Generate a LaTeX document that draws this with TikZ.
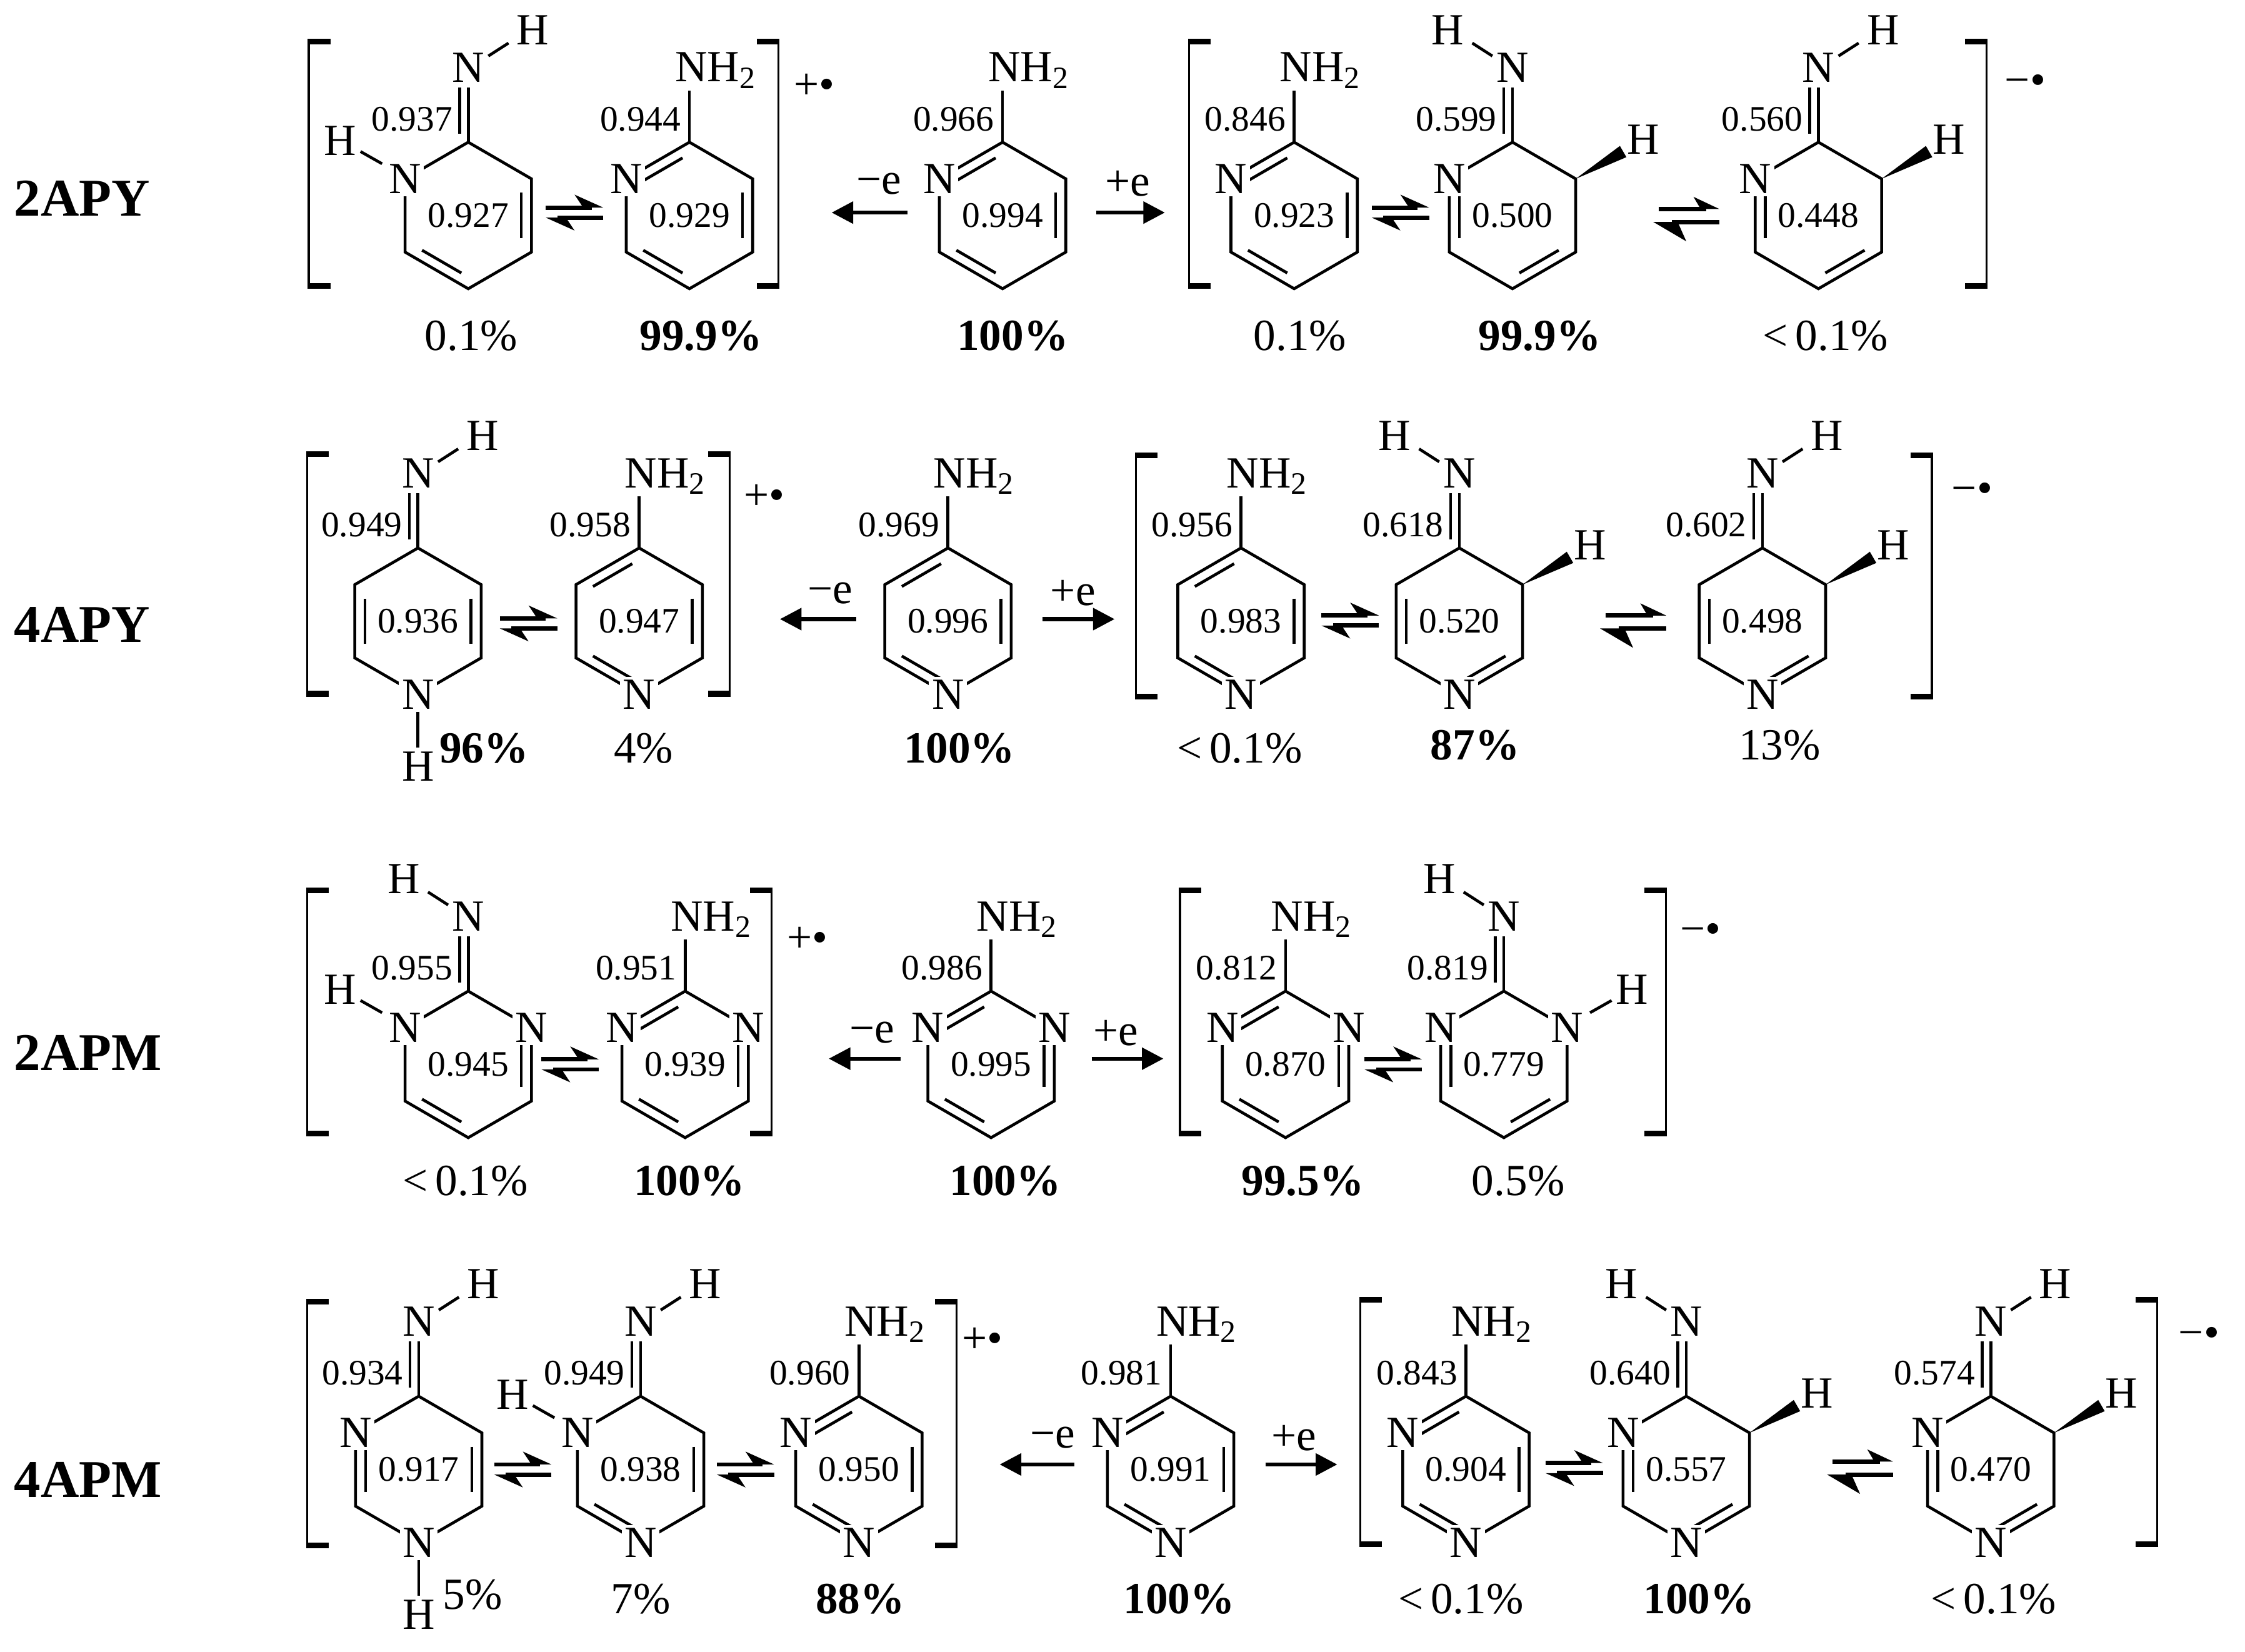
\documentclass[tikz,border=0pt]{standalone}
\usepackage{fontspec}
\setmainfont{Liberation Serif}
\usetikzlibrary{arrows.meta}
\tikzset{
 atom/.style={font=\fontsize{15.5}{16}\selectfont, inner sep=1pt},
 num/.style={font=\fontsize{12.5}{13}\selectfont, inner sep=0.5pt},
 pct/.style={font=\fontsize{15.5}{16}\selectfont, inner sep=0pt},
 pctb/.style={font=\fontsize{15.5}{16}\selectfont\bfseries, inner sep=0pt},
 rowlab/.style={font=\fontsize{18.5}{20}\selectfont\bfseries, anchor=west, inner sep=0pt},
 rxn/.style={line width=1.4pt, -{Triangle[length=7.5pt,width=7.5pt]}},
}
\newcommand\zring{\draw (0,-51)--(44,-25.5)--(44,25.5)--(0,51)--(-44,25.5)--(-44,-25.5)--cycle;}
\newcommand\zdB{\draw (36.96,-15.85)--(36.96,15.85);}
\newcommand\zdC{\draw (32.16,24.2)--(4.8,40.06);}
\newcommand\zdD{\draw (-4.8,40.06)--(-32.16,24.2);}
\newcommand\zdE{\draw (-36.96,15.85)--(-36.96,-15.85);}
\newcommand\zdF{\draw (-32.16,-24.2)--(-4.8,-40.06);}
\newcommand\zNUL{\node[atom,fill=white] (nul) at (-44,-25.5) {N};}
\newcommand\zNUR{\node[atom,fill=white] (nur) at (44,-25.5) {N};}
\newcommand\zNB{\node[atom,fill=white] (nb) at (0,51) {N};}
\newcommand\zamine{\draw (0,-51)--(0,-87); \node[atom,anchor=base west] (nh2) at (-13,-93) {NH\textsubscript{2}};}
\newcommand\zimine{\draw (0,-51)--(0,-89); \draw (-6,-57)--(-6,-89); \node[atom] (nx) at (0,-103) {N};}
\newcommand\zimR{\zimine\draw (14,-111)--(28,-120); \node[atom] (hx) at (45,-129) {H};}
\newcommand\zimL{\zimine\draw (-14,-111)--(-28,-120); \node[atom] (hx) at (-45,-129) {H};}
\newcommand\zwedge{\fill (44,-25.5)--(79.3,-40.6)--(74.8,-48.4)--cycle; \node[atom] (hw) at (91,-53) {H};}
\newcommand\zHUL{\draw (-60,-36)--(-75,-44.5); \node[atom] (hul) at (-89,-52) {H};}
\newcommand\zHUR{\draw (60,-36)--(75,-44.5); \node[atom] (hur) at (89,-52) {H};}
\newcommand\zHB{\draw (0,63)--(0,88); \node[atom] (hb) at (0,101) {H};}
\newcommand\zla[1]{\node[num,anchor=east] (la) at (-4,-67) {#1};}
\newcommand\zli[1]{\node[num,anchor=east] (li) at (-9,-67) {#1};}
\newcommand\zin[1]{\node[num] (lin) at (0,0) {#1};}
\newcommand\zmol[3]{\begin{scope}[shift={(#1,#2)}]#3\end{scope}}
\newcommand\zbrL[3]{\draw[line width=0.7pt] (#1,#2)--(#1,#3); \draw[line width=2pt] (#1-0.7,#2)--(#1+15,#2) (#1-0.7,#3)--(#1+15,#3);}
\newcommand\zbrR[3]{\draw[line width=0.7pt] (#1,#2)--(#1,#3); \draw[line width=2pt] (#1+0.7,#2)--(#1-15,#2) (#1+0.7,#3)--(#1-15,#3);}
\newcommand\zeq[2]{\begin{scope}[shift={(#1,#2)},line width=1.5pt]
 \draw (-20,-3.5)--(12,-3.5); \fill (20,-3.5)--(0,-12.5)--(6,-3.5)--cycle;
 \draw (20,3.5)--(-12,3.5); \fill (-20,3.5)--(0,12.5)--(-6,3.5)--cycle;\end{scope}}
\newcommand\zeqbig[2]{\begin{scope}[shift={(#1,#2)},line width=1.5pt]
 \draw (-21,-4.5)--(12,-4.5); \fill (21,-4.5)--(3,-13)--(8,-4.5)--cycle;
 \draw (21,4.5)--(-12,4.5); \fill (-25,4.5)--(-2,18)--(-8,4.5)--cycle;\end{scope}}
\begin{document}
\begin{tikzpicture}[x=0.5pt,y=-0.5pt,line width=1pt]
\useasboundingbox (0,0) rectangle (1563,1150);
% ===== Row 1: 2APY =====
\node[rowlab] (r1) at (9,138) {2APY};
\zbrL{215}{29}{199} \zbrR{542}{29}{199}
\node[atom] (c1) at (567,60) {+•};
\zmol{326}{150}{\zring\zdB\zdD\zNUL\zHUL\zimR\zli{0.937}\zin{0.927}}
\node[pct] (p11) at (328,234) {0.1\%};
\zeq{400}{148}
\zmol{480}{150}{\zring\zdF\zdB\zdD\zNUL\zamine\zla{0.944}\zin{0.929}}
\node[pctb] (p12) at (488,234) {99.9\%};
\coordinate (a1s) at (632,148); \coordinate (a1e) at (579,148);
\draw[rxn] (a1s)--(a1e); \node[atom] (e11) at (612,128) {−e};
\zmol{698}{150}{\zring\zdF\zdB\zdD\zNUL\zamine\zla{0.966}\zin{0.994}}
\node[pctb] (p13) at (705,234) {100\%};
\coordinate (b1s) at (763,148); \coordinate (b1e) at (811,148);
\draw[rxn] (b1s)--(b1e); \node[atom] (e12) at (785,128) {+e};
\zbrL{828}{29}{199} \zbrR{1383}{29}{199}
\node[atom] (c2) at (1410,59) {−•};
\zmol{901}{150}{\zring\zdF\zdB\zdD\zNUL\zamine\zla{0.846}\zin{0.923}}
\node[pct] (p14) at (905,234) {0.1\%};
\zeq{975}{148}
\zmol{1053}{150}{\zring\zdE\zdC\zNUL\zimL\zwedge\zli{0.599}\zin{0.500}}
\node[pctb] (p15) at (1072,234) {99.9\%};
\zeqbig{1176}{150}
\zmol{1266}{150}{\zring\zdE\zdC\zNUL\zimR\zwedge\zli{0.560}\zin{0.448}}
\node[pct] (p16) at (1271,234) {<\,0.1\%};
% ===== Row 2: 4APY =====
\node[rowlab] (r2) at (9,435) {4APY};
\zbrL{214}{316}{483} \zbrR{508}{316}{483}
\node[atom] (c3) at (532,346) {+•};
\zmol{291}{432.5}{\zring\zdE\zdB\zNB\zHB\zimR\zli{0.949}\zin{0.936}}
\node[pctb] (p21) at (337,521) {96\%};
\zeq{368}{434}
\zmol{445}{432.5}{\zring\zdF\zdB\zdD\zNB\zamine\zla{0.958}\zin{0.947}}
\node[pct] (p22) at (448,521) {4\%};
\coordinate (a2s) at (596,431); \coordinate (a2e) at (543,431);
\draw[rxn] (a2s)--(a2e); \node[atom] (e21) at (578,413) {−e};
\zmol{660}{432.5}{\zring\zdF\zdB\zdD\zNB\zamine\zla{0.969}\zin{0.996}}
\node[pctb] (p23) at (668,521) {100\%};
\coordinate (b2s) at (726,431); \coordinate (b2e) at (776,431);
\draw[rxn] (b2s)--(b2e); \node[atom] (e22) at (747,413) {+e};
\zbrL{791}{317}{485} \zbrR{1345}{317}{485}
\node[atom] (c4) at (1373,343) {−•};
\zmol{864}{432.5}{\zring\zdF\zdB\zdD\zNB\zamine\zla{0.956}\zin{0.983}}
\node[pct] (p24) at (863,521) {<\,0.1\%};
\zeq{940}{432}
\zmol{1016}{432.5}{\zring\zdE\zdC\zNB\zimL\zwedge\zli{0.618}\zin{0.520}}
\node[pctb] (p25) at (1027,519) {87\%};
\zeqbig{1139}{433}
\zmol{1227}{432.5}{\zring\zdE\zdC\zNB\zimR\zwedge\zli{0.602}\zin{0.498}}
\node[pct] (p26) at (1239,519) {13\%};
% ===== Row 3: 2APM =====
\node[rowlab] (r3) at (9,733) {2APM};
\zbrL{214}{620}{789} \zbrR{537}{620}{789}
\node[atom] (c5) at (562,654) {+•};
\zmol{326}{741}{\zring\zdB\zdD\zNUL\zNUR\zHUL\zimL\zli{0.955}\zin{0.945}}
\node[pct] (p31) at (324,822) {<\,0.1\%};
\zeq{397}{741}
\zmol{477}{741}{\zring\zdF\zdB\zdD\zNUL\zNUR\zamine\zla{0.951}\zin{0.939}}
\node[pctb] (p32) at (480,822) {100\%};
\coordinate (a3s) at (627,737); \coordinate (a3e) at (577,737);
\draw[rxn] (a3s)--(a3e); \node[atom] (e31) at (607,719) {−e};
\zmol{690}{741}{\zring\zdF\zdB\zdD\zNUL\zNUR\zamine\zla{0.986}\zin{0.995}}
\node[pctb] (p33) at (700,822) {100\%};
\coordinate (b3s) at (760,737); \coordinate (b3e) at (810,737);
\draw[rxn] (b3s)--(b3e); \node[atom] (e32) at (777,719) {+e};
\zbrL{821.5}{620}{789} \zbrR{1160}{620}{789}
\node[atom] (c6) at (1184,650) {−•};
\zmol{895}{741}{\zring\zdF\zdB\zdD\zNUL\zNUR\zamine\zla{0.812}\zin{0.870}}
\node[pctb] (p34) at (907,822) {99.5\%};
\zeq{970}{741}
\zmol{1047}{741}{\zring\zdE\zdC\zNUL\zNUR\zHUR\zimL\zli{0.819}\zin{0.779}}
\node[pct] (p35) at (1057,822) {0.5\%};
% ===== Row 4: 4APM =====
\node[rowlab] (r4) at (9,1030) {4APM};
\zbrL{214}{906}{1076} \zbrR{666}{906}{1076}
\node[atom] (c7) at (684,933) {+•};
\zmol{291.5}{1023}{\zring\zdE\zdB\zNUL\zNB\zHB\zimR\zli{0.934}\zin{0.917}}
\node[pct] (p41) at (329,1110) {5\%};
\zeq{364}{1023}
\zmol{446}{1023}{\zring\zdB\zdD\zNUL\zNB\zHUL\zimR\zli{0.949}\zin{0.938}}
\node[pct] (p42) at (446,1113) {7\%};
\zeq{519}{1023}
\zmol{598}{1023}{\zring\zdF\zdB\zdD\zNUL\zNB\zamine\zla{0.960}\zin{0.950}}
\node[pctb] (p43) at (599,1113) {88\%};
\coordinate (a4s) at (748,1019.5); \coordinate (a4e) at (696,1019.5);
\draw[rxn] (a4s)--(a4e); \node[atom] (e41) at (733,1001) {−e};
\zmol{815}{1023}{\zring\zdF\zdB\zdD\zNUL\zNB\zamine\zla{0.981}\zin{0.991}}
\node[pctb] (p44) at (821,1113) {100\%};
\coordinate (b4s) at (881,1019.5); \coordinate (b4e) at (931,1019.5);
\draw[rxn] (b4s)--(b4e); \node[atom] (e42) at (901,1001) {+e};
\zbrL{947}{905}{1075} \zbrR{1502}{905}{1075}
\node[atom] (c8) at (1531,931) {−•};
\zmol{1020.6}{1023}{\zring\zdF\zdB\zdD\zNUL\zNB\zamine\zla{0.843}\zin{0.904}}
\node[pct] (p45) at (1017,1113) {<\,0.1\%};
\zeq{1096}{1022}
\zmol{1174}{1023}{\zring\zdE\zdC\zNUL\zNB\zimL\zwedge\zli{0.640}\zin{0.557}}
\node[pctb] (p46) at (1183,1113) {100\%};
\zeqbig{1297}{1022}
\zmol{1386}{1023}{\zring\zdE\zdC\zNUL\zNB\zimR\zwedge\zli{0.574}\zin{0.470}}
\node[pct] (p47) at (1388,1113) {<\,0.1\%};
\end{tikzpicture}
\end{document}
